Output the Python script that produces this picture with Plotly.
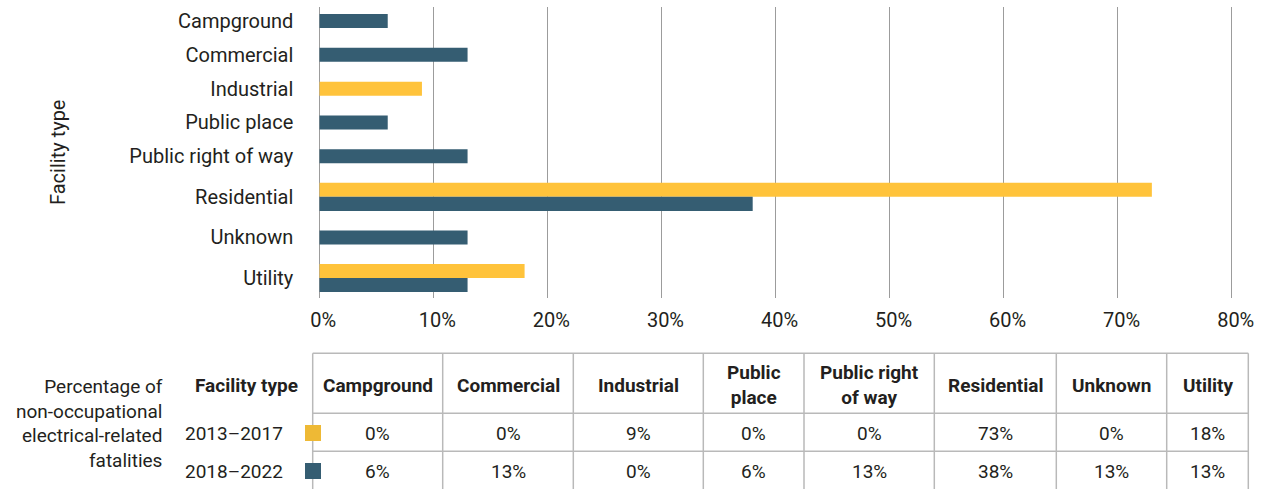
import plotly.graph_objects as go

# ---------------- data ----------------
categories = ["Campground", "Commercial", "Industrial", "Public place",
              "Public right of way", "Residential", "Unknown", "Utility"]
table_headers = ["Campground", "Commercial", "Industrial", "Public<br>place",
                 "Public right<br>of way", "Residential", "Unknown", "Utility"]
series_names = ["2013–2017", "2018–2022"]
pct_2013_2017 = [0, 0, 9, 0, 0, 73, 0, 18]
pct_2018_2022 = [6, 13, 0, 6, 13, 38, 13, 13]
x_ticks = [0, 10, 20, 30, 40, 50, 60, 70, 80]
x_tick_labels = [f"{v}%" for v in x_ticks]

# ---------------- style ----------------
COLORS = ["#FFC33B", "#355D72"]
SWATCH = ["#EEB935", "#355D72"]
TXT = "#231F20"
GRID = "#9C9C9C"
TLINE = "#B9B9B9"
FONT = "Roboto"
W, H = 1266, 489


def fx(px):
    return px / W


def fy(py):
    return 1 - py / H


series = [pct_2013_2017, pct_2018_2022]

# category band sizes: categories with two visible bars get a taller band
nvis = [sum(1 for s in series if s[i] > 0) for i in range(len(categories))]
band = [1.4 if n > 1 else 1.0 for n in nvis]
centers = []
acc = 0.0
for b in band:
    centers.append(acc + b / 2)
    acc += b
BW = 0.414

fig = go.Figure()
for k, (name, vals) in enumerate(zip(series_names, series)):
    ys, xs, offs = [], [], []
    for i, v in enumerate(vals):
        if v <= 0:
            continue
        ys.append(centers[i])
        xs.append(v)
        if nvis[i] > 1:
            offs.append(-BW if k == 0 else 0.0)
        else:
            offs.append(-BW / 2)
    fig.add_trace(go.Bar(
        x=xs, y=ys, orientation="h", name=name,
        marker=dict(color=COLORS[k], line=dict(width=0)),
        width=BW, offset=offs, showlegend=False,
        hovertemplate=name + ": %{x}%<extra></extra>",
    ))

X_MAX = 80.2
PX_PER_UNIT = (1231.7 - 319.3) / 80

fig.update_layout(
    width=W, height=H, autosize=False,
    margin=dict(l=0, r=0, t=0, b=0, pad=0),
    paper_bgcolor="white", plot_bgcolor="white",
    barmode="overlay",
    font=dict(family=FONT, size=20, color=TXT),
    xaxis=dict(
        domain=[fx(319.3), fx(319.3 + X_MAX * PX_PER_UNIT)], automargin=False,
        range=[0, X_MAX], tickvals=x_ticks, ticktext=x_tick_labels,
        showgrid=True, gridcolor=GRID, gridwidth=1.2,
        zeroline=True, zerolinecolor=GRID, zerolinewidth=1.2,
        ticks="outside", ticklen=4, tickcolor="rgba(0,0,0,0)",
        ticklabelshift=4,
        tickfont=dict(size=20, color=TXT), showline=False,
    ),
    yaxis=dict(
        domain=[fy(298), fy(7)], automargin=False,
        range=[acc - 0.11, 0.086],
        tickvals=centers, ticktext=categories,
        showgrid=False, zeroline=False, showline=False,
        ticks="outside", ticklen=21, tickcolor="rgba(0,0,0,0)",
        tickfont=dict(size=20, color=TXT),
    ),
)

ann = []
shapes = []
# y-axis title
ann.append(dict(text="Facility type", textangle=-90, x=fx(58), y=fy(153),
                xref="paper", yref="paper", showarrow=False,
                xanchor="center", yanchor="middle",
                font=dict(size=20, color=TXT)))

# ---------------- table ----------------
edges = [312.7, 442.7, 573.3, 703.3, 804, 934.3, 1056.3, 1166.7, 1248.3]
t_top, h_bot, r1_bot, t_bot = 353.3, 413.3, 451.3, 489
header_y = 385
row_y = [433, 471]

for e in edges:
    shapes.append(dict(type="line", xref="paper", yref="paper",
                       x0=fx(e), x1=fx(e), y0=fy(t_top), y1=fy(t_bot),
                       line=dict(color=TLINE, width=1.5)))
for hy in [t_top, h_bot, r1_bot]:
    shapes.append(dict(type="line", xref="paper", yref="paper",
                       x0=fx(edges[0]), x1=fx(edges[-1]), y0=fy(hy), y1=fy(hy),
                       line=dict(color=TLINE, width=1.5)))

for j, hdr in enumerate(table_headers):
    cx = (edges[j] + edges[j + 1]) / 2
    ann.append(dict(text="<b>" + hdr + "</b>", x=fx(cx), y=fy(header_y),
                    xref="paper", yref="paper", showarrow=False,
                    xanchor="center", yanchor="middle", align="center",
                    font=dict(size=19, color=TXT)))
    for k, vals in enumerate(series):
        ann.append(dict(text=f"{vals[j]}%", x=fx(cx), y=fy(row_y[k]),
                        xref="paper", yref="paper", showarrow=False,
                        xanchor="center", yanchor="middle",
                        font=dict(size=19, color=TXT)))

ann.append(dict(text="<b>Facility type</b>", x=fx(300), y=fy(header_y),
                xref="paper", yref="paper", showarrow=False,
                xanchor="right", yanchor="middle", font=dict(size=19, color=TXT)))
for k, name in enumerate(series_names):
    ann.append(dict(text=name, x=fx(285), y=fy(row_y[k]),
                    xref="paper", yref="paper", showarrow=False,
                    xanchor="right", yanchor="middle", font=dict(size=19, color=TXT)))
    shapes.append(dict(type="rect", xref="paper", yref="paper",
                       x0=fx(305), x1=fx(321),
                       y0=fy(row_y[k] + 8), y1=fy(row_y[k] - 8),
                       fillcolor=SWATCH[k], line=dict(width=0), layer="above"))

ann.append(dict(text="Percentage of<br>non-occupational<br>electrical-related<br>fatalities",
                x=fx(165), y=fy(423), xref="paper", yref="paper", showarrow=False,
                xanchor="right", yanchor="middle", align="right",
                font=dict(size=19, color=TXT)))

fig.update_layout(annotations=ann, shapes=shapes)
fig.write_html(
    "out.html",
    config={"displayModeBar": False, "responsive": False},
    post_script="document.body.style.margin='0';document.body.style.overflow='hidden';",
)
